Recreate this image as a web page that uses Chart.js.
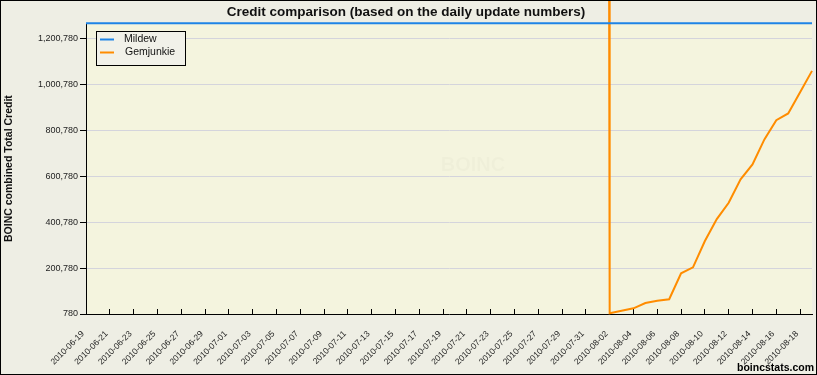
<!DOCTYPE html>
<html>
<head>
<meta charset="utf-8">
<script src="https://cdn.jsdelivr.net/npm/chart.js@4"></script>
<style>
  html, body { margin: 0; padding: 0; background: #eeeee4; }
  #wrap { position: relative; width: 817px; height: 375px; }
</style>
</head>
<body>
<div id="wrap"><canvas id="c"></canvas></div>
<script>
// ---- data (x = days since 2010-06-19) ----
const dateLabels = ['2010-06-19','2010-06-21','2010-06-23','2010-06-25','2010-06-27','2010-06-29',
  '2010-07-01','2010-07-03','2010-07-05','2010-07-07','2010-07-09','2010-07-11','2010-07-13',
  '2010-07-15','2010-07-17','2010-07-19','2010-07-21','2010-07-23','2010-07-25','2010-07-27',
  '2010-07-29','2010-07-31','2010-08-02','2010-08-04','2010-08-06','2010-08-08','2010-08-10',
  '2010-08-12','2010-08-14','2010-08-16','2010-08-18'];
const yTicks = [780, 200780, 400780, 600780, 800780, 1000780, 1200780];

const mildewDays   = [0, 61];
const mildewCredit = [1266000, 1266000]; // off the top of the chart

const gemDays   = [43.95, 44, 45, 46, 47, 48, 49, 50, 51, 52, 53, 54, 55, 56, 57, 58, 59, 60, 61];
const gemCredit = [1500000, 3800, 15100, 25600, 48600, 58200, 65000, 177700, 203800, 318200,
  413800, 484700, 586400, 651600, 760300, 844300, 873400, 966000, 1058600];

const seriesNames = ['Mildew', 'Gemjunkie'];
const seriesColors = ['#1e84e6', '#ff8c00'];

const FONT = "'Liberation Sans', Arial, sans-serif";

const bgPlugin = {
  id: 'bg',
  beforeDraw(chart) {
    const { ctx, chartArea: a } = chart;
    ctx.save();
    ctx.fillStyle = '#eeeee4';
    ctx.fillRect(0, 0, chart.width, chart.height);
    ctx.fillStyle = '#f4f4de';
    ctx.fillRect(a.left, a.top, a.right - a.left, a.bottom - a.top);
    // faint watermark
    ctx.font = "bold 20px " + FONT;
    ctx.fillStyle = 'rgba(0,0,0,0.02)';
    ctx.textAlign = 'center';
    ctx.textBaseline = 'middle';
    ctx.fillText('BOINC', (a.left + a.right) / 2 + 24, 165);
    ctx.restore();
  },
  afterDraw(chart) {
    const { ctx } = chart;
    ctx.save();
    // legend
    const lx = 96, ly = 31, lw = 89, lh = 34;
    ctx.fillStyle = '#f1f1e9';
    ctx.fillRect(lx, ly, lw, lh);
    ctx.strokeStyle = '#000';
    ctx.lineWidth = 1;
    ctx.strokeRect(lx + 0.5, ly + 0.5, lw, lh);
    ctx.font = "10.5px " + FONT;
    ctx.textBaseline = 'middle';
    ctx.textAlign = 'left';
    chart.data.datasets.forEach((ds, i) => {
      const y = 39.5 + i * 13;
      ctx.strokeStyle = ds.borderColor;
      ctx.lineWidth = 2;
      ctx.beginPath();
      ctx.moveTo(100, y); ctx.lineTo(114, y);
      ctx.stroke();
      ctx.fillStyle = '#111';
      ctx.fillText(ds.label, 124 + i, y);
    });
    // site label
    ctx.font = "bold 10.5px " + FONT;
    ctx.fillStyle = '#000';
    ctx.textAlign = 'right';
    ctx.textBaseline = 'alphabetic';
    ctx.fillText('boincstats.com', 814, 371);
    // outer border
    ctx.strokeStyle = '#000';
    ctx.lineWidth = 1;
    ctx.strokeRect(0.5, 0.5, chart.width - 1, chart.height - 1);
    ctx.restore();
  }
};

new Chart(document.getElementById('c'), {
  type: 'line',
  data: {
    datasets: [
      {
        label: seriesNames[0],
        data: mildewDays.map((d, i) => ({ x: d, y: mildewCredit[i] })),
        borderColor: seriesColors[0],
        borderWidth: 2,
        pointRadius: 0,
        tension: 0,
        fill: false,
        clip: false
      },
      {
        label: seriesNames[1],
        data: gemDays.map((d, i) => ({ x: d, y: gemCredit[i] })),
        borderColor: seriesColors[1],
        borderWidth: 2,
        pointRadius: 0,
        tension: 0,
        fill: false,
        clip: false
      }
    ]
  },
  options: {
    responsive: true,
    maintainAspectRatio: false,
    animation: false,
    events: [],
    layout: { padding: { left: 0, right: 5, top: 0, bottom: 0 } },
    plugins: {
      legend: { display: false },
      tooltip: { enabled: false },
      title: {
        display: true,
        text: 'Credit comparison (based on the daily update numbers)',
        color: '#111',
        font: { family: FONT, size: 13.5, weight: 'bold' },
        padding: { top: 4, bottom: 3 }
      }
    },
    scales: {
      x: {
        type: 'linear',
        min: 0,
        max: 61,
        afterBuildTicks: s => { s.ticks = dateLabels.map((_, i) => ({ value: i * 2 })); },
        afterFit: s => { s.height = 61; s.paddingLeft = 0; s.paddingRight = 0; },
        ticks: {
          autoSkip: false,
          maxRotation: 45,
          minRotation: 45,
          color: '#222',
          padding: 20,
          labelOffset: -3,
          font: { family: FONT, size: 8.5 },
          callback: v => dateLabels[Math.round(v / 2)]
        },
        grid: {
          drawOnChartArea: false,
          tickLength: -5,
          tickColor: '#000'
        },
        border: { display: true, color: '#000', width: 1 }
      },
      y: {
        min: 780,
        max: 1266000,
        afterBuildTicks: s => { s.ticks = yTicks.map(v => ({ value: v })); },
        afterFit: s => { s.width = 86; s.paddingTop = 0; s.paddingBottom = 0; },
        ticks: {
          color: '#222',
          padding: 2,
          font: { family: FONT, size: 9 },
          callback: v => v.toLocaleString('en-US')
        },
        grid: {
          color: '#d4d4dc',
          tickColor: '#000',
          tickLength: 6,
          lineWidth: 1
        },
        border: { display: true, color: '#000', width: 1 },
        title: {
          display: true,
          text: 'BOINC combined Total Credit',
          color: '#111',
          font: { family: FONT, size: 10.5, weight: 'bold' },
          padding: { top: 3, bottom: 0 }
        }
      }
    }
  },
  plugins: [bgPlugin]
});
</script>
</body>
</html>
